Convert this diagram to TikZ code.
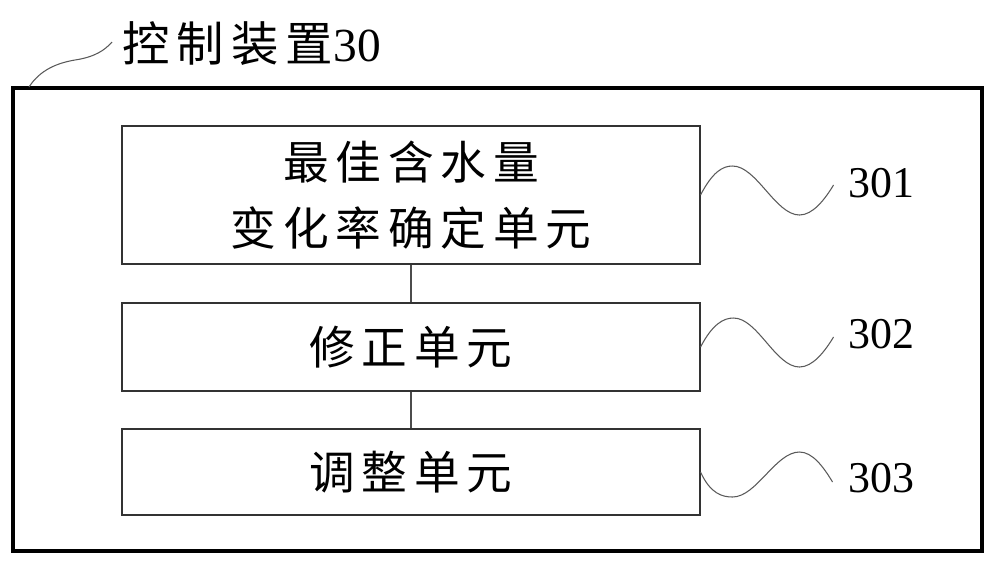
\documentclass[tikz,border=0pt]{standalone}
\usepackage{fontspec}
\setmainfont{Liberation Serif}
\newfontfamily\cjk[LetterSpace=15]{Noto Sans CJK SC}
\usepackage{tikz}

\begin{document}
\begin{tikzpicture}[x=0.02cm, y=-0.02cm,
                        unit/.style={draw=black!80, line width=0.6pt, minimum width=578*0.02cm,
                                     inner sep=0pt, align=center, font=\cjk\fontsize{26}{38}\selectfont},
                        link/.style={draw=black!70, line width=0.6pt},
                        wave/.style={draw=black!65, line width=0.6pt},
                        num/.style={inner sep=0pt, font=\fontsize{25}{30}\selectfont}]
        \useasboundingbox (0,0) rectangle (1000,569);
        % Frame and title
        \draw[line width=1.8pt] (13,88) rectangle (982,551);
        \node[inner sep=0pt, anchor=west, font=\fontsize{27}{32}\selectfont] (title) at (122,44) {{\cjk 控制装置}30};
        \coordinate (corner) at (29,87);
        \draw[wave] (corner) .. controls +(11,-17) and +(-18,3) .. ++(46,-27) .. controls +(20,-3) and +(-7,8) .. ++(37,-18);
        % Units
        \node[unit, minimum height=138*0.02cm] (b1) at (411,195) {最佳含水量\\变化率确定单元};
        \node[unit, minimum height=88*0.02cm] (b2) at (411,347) {修正单元};
        \node[unit, minimum height=86*0.02cm] (b3) at (411,472) {调整单元};
        \draw[link] (b1) -- (b2);
        \draw[link] (b2) -- (b3);
        % Reference numbers
        \node[num, anchor=west] (n1) at (848,183) {301};
        \node[num, anchor=west] (n2) at (848,334) {302};
        \node[num, anchor=west] (n3) at (848,478) {303};
        \draw[wave] (b1.east) .. controls +(12,-23) and +(-10,0) .. ++(32,-29)
                    .. controls +(24,0) and +(-24,0) .. ++(67,49)
                    .. controls +(13,0) and +(-9,15) .. ++(34,-30);
        \draw[wave] (b2.east) .. controls +(12,-23) and +(-10,0) .. ++(33,-29)
                    .. controls +(24,0) and +(-24,0) .. ++(66,49)
                    .. controls +(13,0) and +(-9,15) .. ++(34,-30);
        \draw[wave] (b3.east) .. controls +(10,22) and +(-10,0) .. ++(32,25)
                    .. controls +(24,0) and +(-24,0) .. ++(67,-45)
                    .. controls +(13,0) and +(-9,-15) .. ++(33,30);
    \end{tikzpicture}
\end{document}
